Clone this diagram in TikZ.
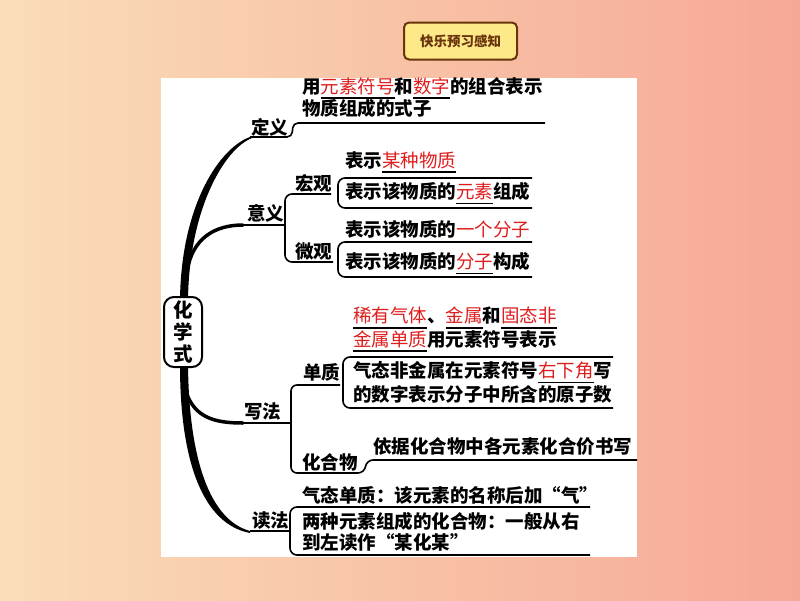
\documentclass[tikz,border=0pt]{standalone}
\usepackage{fontspec}
\newfontfamily\cjk{Noto Sans CJK SC}
\definecolor{hl}{RGB}{222,30,30}
\definecolor{bgl}{RGB}{250,221,184}
\definecolor{bgr}{RGB}{246,168,150}
\definecolor{badgefill}{RGB}{253,233,135}
\definecolor{badgeline}{RGB}{105,52,12}
\newcommand\ublank[1]{\setbox0\hbox{\mdseries\textcolor{hl}{#1}}\rlap{\rule[-5.8pt]{\wd0}{1.4pt}}\box0}
\tikzset{
  txt/.style={font=\cjk\bfseries\fontsize{18.5}{22}\selectfont, inner sep=0pt, anchor=west},
  br/.style={line width=1.6pt, rounded corners=7pt},
  trunk/.style={fill=black},
  branch/.style={line width=3.5pt, line cap=round},
}
\begin{document}
\begin{tikzpicture}[x=1pt,y=-1pt]
\useasboundingbox (0,0) rectangle (800,600);
\shade[left color=bgl, right color=bgr] (0,0) rectangle (800,600);
\fill[white] (161,78) rectangle (637,557);

% badge
\node[draw=badgeline, fill=badgefill, line width=2pt, rounded corners=5pt,
      minimum width=113pt, minimum height=37pt, inner sep=0pt,
      text=badgeline, font=\cjk\bfseries\fontsize{13.5}{15}\selectfont] (badge) at (460.5,41) {快乐预习感知};

% trunk
\fill[trunk] (180,300) .. controls (181,205) and (220,146) .. (252,136.3)
  -- (252,138) .. controls (224,149) and (189,210) .. (188,300) -- cycle;
\fill[trunk] (180,365) .. controls (180,462) and (203,524) .. (250,533)
  -- (250,531) .. controls (210,520) and (189,460) .. (188,365) -- cycle;
\draw[branch] (187,272) .. controls (192,238) and (215,225) .. (243,225);
\draw[branch] (186,392) .. controls (195,418) and (215,423) .. (243,423);

% central node
\node[draw, line width=2pt, rounded corners=10pt, fill=white, minimum width=38pt, minimum height=70pt,
      inner sep=0pt, align=center, font=\cjk\bfseries\fontsize{19.5}{22}\selectfont] (root) at (183,332) {化\\学\\式};

% 定义
\node[txt] (dy) at (251,127) {定义};
\draw[br,rounded corners=5pt] (250,137) -- (292,137) -- (293,123) -- (545,123);
\node[txt] (dy1) at (302,88) {用\ublank{元素符号}和\ublank{数字}的组合表示};
\node[txt] (dy2) at (302,108) {物质组成的式子};

% 意义
\node[txt] (yy) at (247,213) {意义};
\draw[br] (243,225) -- (285,225);
\draw[br] (331,194) -- (285,194) -- (285,262) -- (333,262);
\node[txt] (hg) at (295,183) {宏观};
\draw[br] (532,178) -- (338,178) -- (338,208) -- (532,208);
\node[txt] (hg1) at (345,162) {表示\ublank{某种物质}};
\node[txt] (hg2) at (345,193) {表示该物质的\ublank{元素}组成};
\node[txt] (wg) at (295,251) {微观};
\draw[br] (532,242) -- (338,242) -- (338,277) -- (532,277);
\node[txt] (wg1) at (345,231) {表示该物质的\ublank{一个分子}};
\node[txt] (wg2) at (345,263) {表示该物质的\ublank{分子}构成};

% 写法
\node[txt] (xf) at (244,411) {写法};
\draw[br] (243,423) -- (291,423);
\draw[br,rounded corners=6pt] (340,385) -- (291,385) -- (291,473) -- (364,473) -- (367,460) -- (637,460);
\node[txt] (dz) at (303,372) {单质};
\draw[br] (613,357) -- (343,357) -- (343,408) -- (613,408);
\node[txt] (dz0a) at (353,318) {\ublank{稀有气体}、\ublank{金属}和\ublank{固态非}};
\node[txt] (dz0b) at (353,341) {\ublank{金属单质}用元素符号表示};
\node[txt] (dz1) at (353,372) {气态非金属在元素符号\ublank{右下角}写};
\node[txt] (dz2) at (353,394) {的数字表示分子中所含的原子数};
\node[txt] (hhw) at (302,462) {化合物};
\node[txt] (hhw1) at (373,446) {依据化合物中各元素化合价书写};

% 读法
\node[txt] (df) at (252,521) {读法};
\draw[br] (250,531) -- (290,531);
\draw[br] (590,507) -- (290,507) -- (290,555) -- (590,555);
\node[txt] (df1) at (302,495) {气态单质：该元素的名称后加“气”};
\node[txt] (df2) at (302,521) {两种元素组成的化合物：一般从右};
\node[txt] (df3) at (302,542) {到左读作“某化某”};
\end{tikzpicture}
\end{document}
